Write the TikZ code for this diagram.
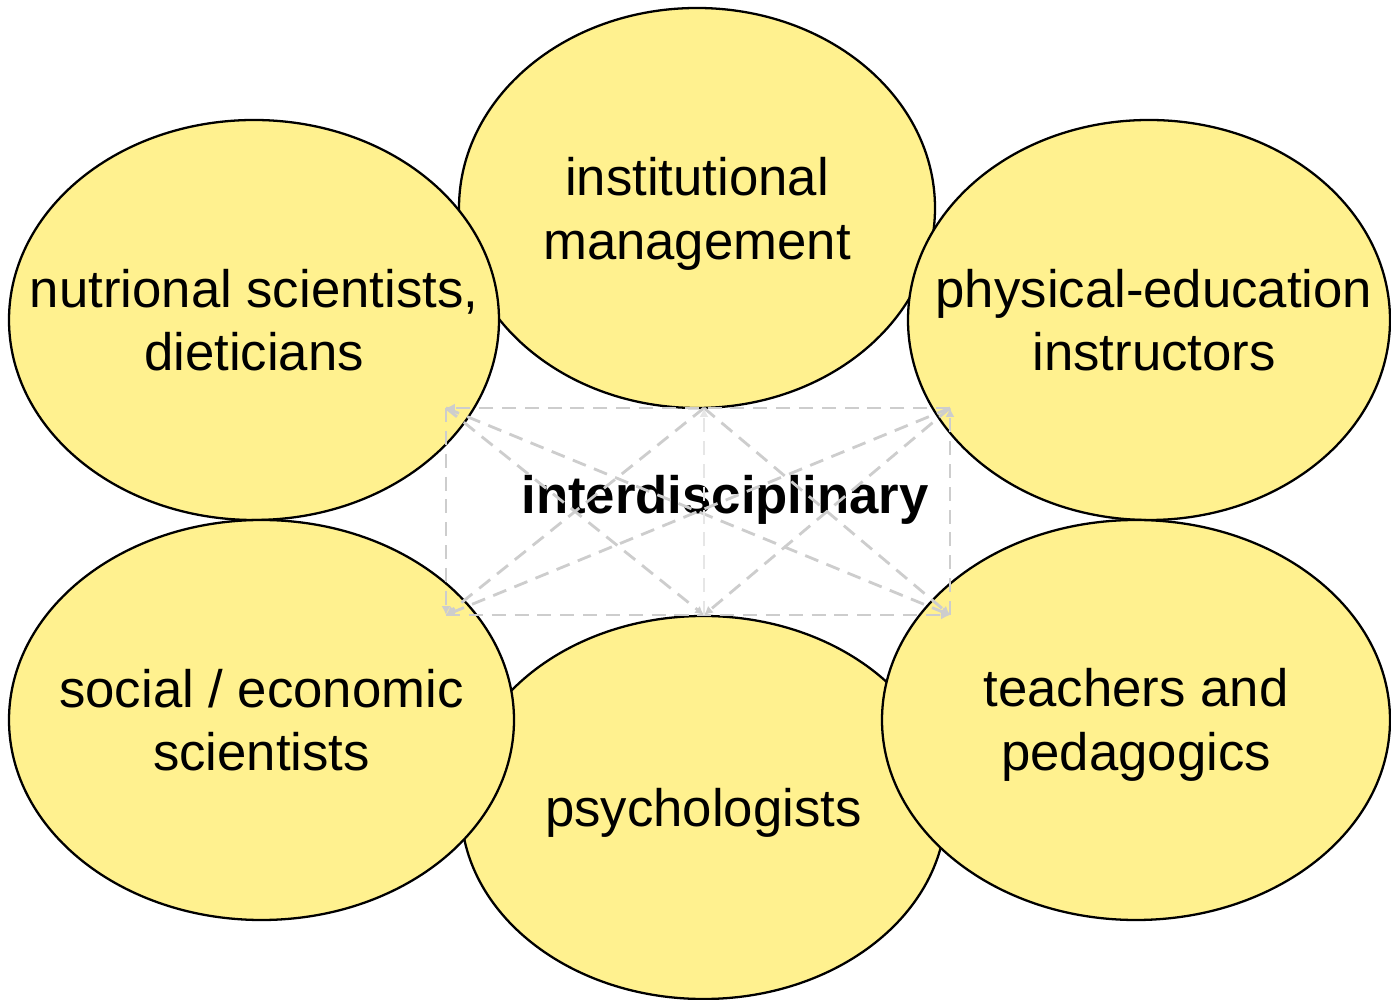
\documentclass[tikz,border=0pt]{standalone}
\usepackage{fontspec}
\setmainfont{Liberation Sans}
\usetikzlibrary{shapes.geometric, arrows.meta, positioning}

\definecolor{fieldyellow}{RGB}{255,241,143}
\definecolor{linkgray}{RGB}{205,205,205}

\tikzset{
    field/.style={ellipse, draw, fill=fieldyellow, line width=1.3pt, inner sep=0pt},
    fieldtext/.style={align=center, font=\fontsize{30}{36}\selectfont},
    link/.style={draw=linkgray, dashed, line width=1.6pt, dash pattern=on 8pt off 5pt, -{Latex[length=5pt, width=5pt]}}
}

\begin{document}
\begin{tikzpicture}[>=latex]
    \useasboundingbox (0,0) rectangle (27.82,20);
    % back row first, the side fields overlap them
    \node[field, minimum width=9.52cm, minimum height=8cm] (mgmt) at (13.94,15.84) {};
    \node[fieldtext, yshift=-0.12cm] (mgmt-text) at (mgmt) {institutional\\management};
    \node[field, minimum width=9.7cm, minimum height=7.66cm] (psych) at (14.07,3.85) {};
    \node[fieldtext, yshift=-0.1cm] (psych-text) at (psych) {psychologists};
    \node[field, minimum width=9.8cm, minimum height=8cm] (nutri) at (5.08,13.6) {};
    \node[fieldtext] (nutri-text) at (nutri) {nutrional scientists,\\dieticians};
    \node[field, minimum width=9.64cm, minimum height=8cm] (phys) at (22.98,13.6) {};
    \node[fieldtext, xshift=0.1cm] (phys-text) at (phys) {physical-education\\instructors};
    \node[field, minimum width=10.1cm, minimum height=8cm] (social) at (5.23,5.6) {};
    \node[fieldtext] (social-text) at (social) {social / economic\\scientists};
    \node[field, minimum width=10.16cm, minimum height=8cm] (teach) at (22.72,5.6) {};
    \node[fieldtext, yshift=-0.1cm] (teach-text) at (teach) {teachers and\\pedagogics};

    \node[font=\bfseries\fontsize{30}{36}\selectfont] (inter) at (14.5,10.0) {interdisciplinary};

    % dashed web in the middle
    \coordinate (tl) at (8.92,11.84);
    \coordinate (tc) at (14.08,11.84);
    \coordinate (tr) at (19.0,11.84);
    \coordinate (bl) at (8.92,7.7);
    \coordinate (bc) at (14.08,7.7);
    \coordinate (br) at (19.0,7.7);

    \draw[link] (tr) -- (tl);
    \draw[link] (tl) -- (bl);
    \draw[link] (bl) -- (br);
    \draw[link] (br) -- (tr);
    \draw[link] (tc) -- (bl);
    \draw[link] (tc) -- (br);
    \draw[link] (tl) -- (br);
    \draw[link] (tl) -- (bc);
    \draw[link] (tr) -- (bl);
    \draw[link] (tr) -- (bc);
    \draw[link, draw=linkgray!50] (bc) -- (tc);
\end{tikzpicture}
\end{document}
